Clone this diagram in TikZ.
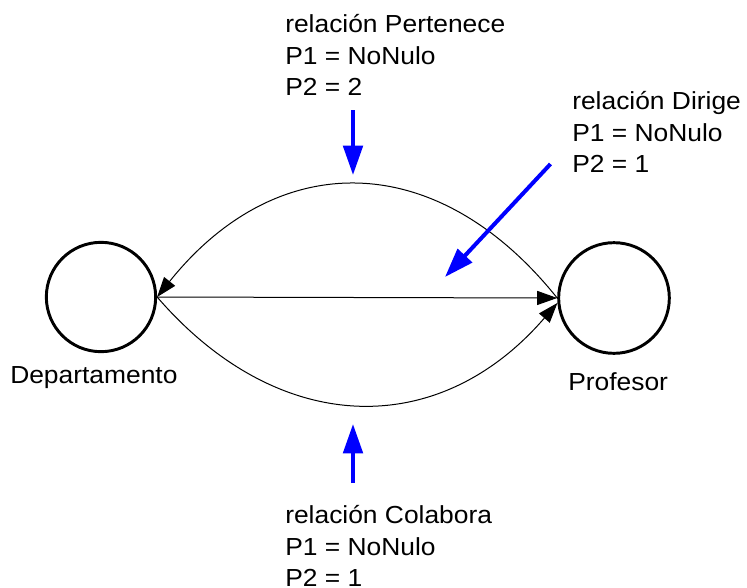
\documentclass[tikz,border=0pt]{standalone}
\usepackage{fontspec}
\setmainfont{Liberation Sans}[FakeStretch=1.07]
\usetikzlibrary{arrows.meta}

\begin{document}
\begin{tikzpicture}[
  x=0.75pt, y=-0.75pt,
  every node/.style = {font=\fontsize{18.5}{23.6}\selectfont},
  %-- styles ---------------------------------------------------------------
  entity/.style  = {draw, circle, line width=2.2pt, minimum size=82pt,
                    inner sep=0pt},
  entname/.style = {anchor=base west, inner sep=0pt},
  relnote/.style = {anchor=base west, inner sep=0pt, align=left},
  rel/.style     = {-{Triangle[length=15pt, width=10.5pt]}, line width=0.75pt},
  hint/.style    = {-{Triangle[length=22pt, width=14.5pt]}, line width=3pt,
                    blue},
]
\useasboundingbox (0,0) rectangle (747,587);

% -- entities ----------------------------------------------------------------
\node[entity] (Dep) at (101,297) {};
\node[entity, minimum size=83pt] (Prof) at (614,298) {};

\node[entname] (DepName)  at (10,383)  {Departamento};
\node[entname] (ProfName) at (568,390) {Profesor};

% -- relations ---------------------------------------------------------------
\draw[rel] (Dep.east) -- (Prof.west);
\draw[rel] (Prof.west) .. controls +(-120,-150) and +(120,-150) .. (Dep.east);
\draw[rel] (Dep.east) .. controls +(120,139) and +(-120,139) .. (Prof.185);

% -- relation notes (anchored at the last line) ------------------------------
\node[relnote] (pert) at (285,95.5)  {relación Pertenece\\P1 = NoNulo\\P2 = 2};
\node[relnote] (dir)  at (572,172.5) {relación Dirige\\P1 = NoNulo\\P2 = 1};
\node[relnote] (col)  at (285,586.5) {relación Colabora\\P1 = NoNulo\\P2 = 1};

% -- pointers ----------------------------------------------------------------
\coordinate (pertFrom) at (353,110);
\coordinate (pertTo)   at (353,175);
\coordinate (dirFrom)  at (550.5,164);
\coordinate (dirTo)    at (445,277);
\coordinate (colFrom)  at (353,483);
\coordinate (colTo)    at (353,424);

\draw[hint] (pertFrom) -- (pertTo);
\draw[hint] (dirFrom)  -- (dirTo);
\draw[hint] (colFrom)  -- (colTo);

\end{tikzpicture}
\end{document}
